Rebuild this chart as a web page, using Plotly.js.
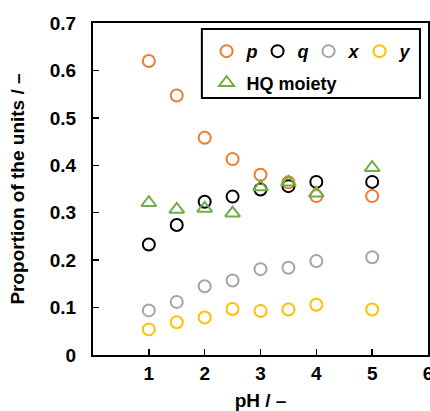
<!DOCTYPE html>
<html>
<head>
<meta charset="utf-8">
<script src="https://cdn.plot.ly/plotly-3.0.1.min.js"></script>
<style>html,body{margin:0;padding:0;background:#fff;}#chart{width:430px;height:411px;}</style>
</head>
<body>
<div id="chart"></div>
<script>
const pH = [1, 1.5, 2, 2.5, 3, 3.5, 4, 5];
const pVals = [0.620, 0.547, 0.458, 0.413, 0.380, 0.364, 0.335, 0.335];
const qVals = [0.233, 0.274, 0.323, 0.334, 0.349, 0.356, 0.365, 0.365];
const xVals = [0.094, 0.112, 0.145, 0.157, 0.181, 0.184, 0.198, 0.206];
const yVals = [0.054, 0.069, 0.079, 0.097, 0.093, 0.096, 0.106, 0.096];
const hqVals = [0.321, 0.307, 0.309, 0.299, 0.354, 0.364, 0.341, 0.395];
const seriesNames = ['<b><i>p</i></b>', '<b><i>q</i></b>', '<b><i>x</i></b>', '<b><i>y</i></b>', '<b>HQ moiety</b>'];
const xTicks = [1, 2, 3, 4, 5, 6];
const yTicks = [0, 0.1, 0.2, 0.3, 0.4, 0.5, 0.6, 0.7];
const yTickText = ['0', '0.1', '0.2', '0.3', '0.4', '0.5', '0.6', '0.7'];

const FONT = 'Liberation Sans, Arial, sans-serif';
const FS = 19;
const colors = ['#ED7D31', '#000000', '#A5A5A5', '#FFC000', '#70AD47'];
const seriesData = [pVals, qVals, xVals, yVals];

const traces = seriesData.map((vals, i) => ({
  x: pH, y: vals, type: 'scatter', mode: 'markers', name: seriesNames[i],
  marker: {symbol: 'circle-open', size: 12, color: colors[i], line: {width: 2, color: colors[i]}},
  legend: 'legend'
}));
traces.push({
  x: pH, y: hqVals, type: 'scatter', mode: 'markers', name: seriesNames[4],
  marker: {symbol: 'triangle-up-open', size: 13, color: colors[4], line: {width: 2, color: colors[4]}},
  legend: 'legend2'
});

const layout = {
  width: 430, height: 411,
  margin: {l: 93, r: 2, t: 23, b: 56, autoexpand: false},
  paper_bgcolor: '#fff', plot_bgcolor: '#fff',
  font: {family: FONT, color: '#000', size: FS},
  showlegend: true,
  legend: {
    orientation: 'h', x: 0.339, y: 0.97, xanchor: 'left', yanchor: 'top',
    entrywidth: 6, entrywidthmode: 'pixels',
    bgcolor: 'rgba(0,0,0,0)', borderwidth: 0,
    font: {family: FONT, size: 18, color: '#000'}, traceorder: 'normal'
  },
  legend2: {
    orientation: 'h', x: 0.339, y: 0.875, xanchor: 'left', yanchor: 'top',
    bgcolor: 'rgba(0,0,0,0)', borderwidth: 0,
    font: {family: FONT, size: 18, color: '#000'}
  },
  shapes: [{
    type: 'rect', xref: 'paper', yref: 'paper',
    x0: 0.325, x1: 0.976, y0: 0.774, y1: 0.982,
    line: {color: '#000', width: 2}, fillcolor: 'rgba(0,0,0,0)'
  }],
  xaxis: {
    range: [0, 6], tickvals: xTicks, ticktext: xTicks.map(String),
    showgrid: false, zeroline: false, automargin: false,
    ticklabeloverflow: 'allow',
    showline: true, linecolor: '#000', linewidth: 2, mirror: true,
    ticks: 'inside', ticklen: 6, tickwidth: 1.5, tickcolor: '#000',
    tickfont: {family: FONT, size: FS, color: '#000', weight: 'bold'},
    title: {text: '<b>pH / –</b>', font: {family: FONT, size: FS, color: '#000'}, standoff: 14}
  },
  yaxis: {
    range: [0, 0.7], tickvals: yTicks, ticktext: yTickText,
    showgrid: false, zeroline: false, automargin: false,
    showline: true, linecolor: '#000', linewidth: 2, mirror: true,
    ticks: 'inside', ticklen: 6, tickwidth: 1.5, tickcolor: '#000',
    tickfont: {family: FONT, size: FS, color: '#000', weight: 'bold'},
    ticklabelstandoff: 11,
    title: {text: '<b>Proportion of the units / –</b>', font: {family: FONT, size: FS, color: '#000'}, standoff: 20}
  }
};

Plotly.newPlot('chart', traces, layout, {displayModeBar: false, staticPlot: true});
</script>
</body>
</html>
